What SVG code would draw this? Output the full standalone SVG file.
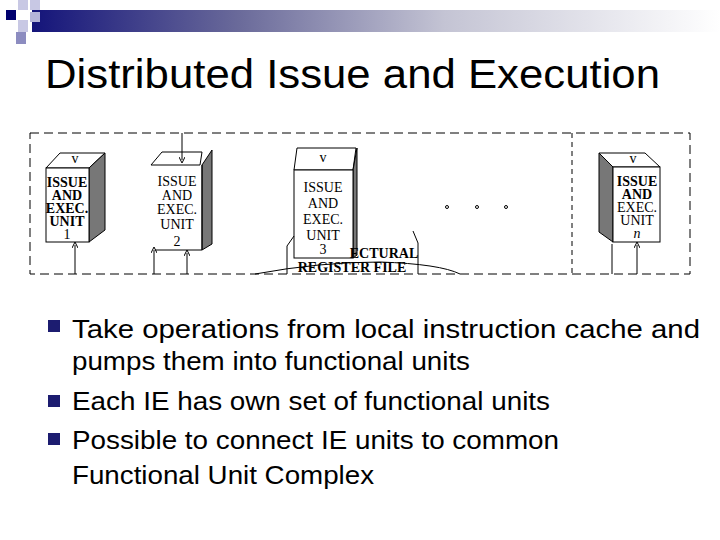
<svg xmlns="http://www.w3.org/2000/svg" width="720" height="540" viewBox="0 0 720 540">
<defs>
<linearGradient id="g" x1="0" x2="1"><stop offset="0" stop-color="#14147a"/><stop offset="0.3" stop-color="#6a6a9a"/><stop offset="0.6" stop-color="#c4c4d4"/><stop offset="1" stop-color="#ffffff"/></linearGradient>
<marker id="ah" markerWidth="6" markerHeight="6" refX="3" refY="3" orient="auto"><path d="M0,0 L6,3 L0,6" fill="none" stroke="#000"/></marker>
<style>
.u{font-family:"Liberation Serif",serif;font-size:14px;text-anchor:middle;fill:#000}
.f{fill:#fff;stroke:#000;stroke-width:1}
.s{fill:#777;stroke:#000;stroke-width:1}
.c{stroke:#000;stroke-width:1;fill:none}
.b{font-family:"Liberation Sans",Arial,sans-serif;font-size:26px;fill:#000}
</style>
</defs>
<rect width="720" height="540" fill="#fff"/>
<g id="header">
<rect x="32" y="10" width="688" height="22" fill="url(#g)"/>
<rect x="6" y="10" width="10" height="10" fill="#00006e"/>
<rect x="18" y="0" width="10" height="10" fill="#c8c8e4"/>
<rect x="30" y="0" width="10" height="10" fill="#c8c8e4"/>
<rect x="30" y="12" width="10" height="10" fill="#b4b4d8"/>
<rect x="18" y="20" width="10" height="12" fill="#c8c8e4"/>
<rect x="16" y="32" width="10" height="12" fill="#8c8cc0"/>
</g>
<text x="45" y="88" font-family="Liberation Sans,Arial,sans-serif" font-size="40" textLength="615" lengthAdjust="spacingAndGlyphs">Distributed Issue and Execution</text>
<g id="frame">
<rect x="30" y="133" width="660" height="141" class="c" stroke-width="3" stroke-dasharray="9,5"/>
<line x1="572" y1="133" x2="572" y2="274" class="c" stroke-width="1.5" stroke-dasharray="5,4"/>
</g>
<g id="unit1">
<path d="M46,168 L60,153 L105,153 L89,168 Z" class="f"/>
<path d="M89,168 L105,153 L105,230 L89,242 Z" class="s"/>
<rect x="46" y="168" width="43" height="74" class="f"/>
<text class="u" x="75" y="163" font-size="9">v</text>
<text class="u" font-weight="bold" font-size="10.5" x="67" y="187">ISSUE</text>
<text class="u" font-weight="bold" font-size="10.5" x="67" y="200">AND</text>
<text class="u" font-weight="bold" font-size="10.5" x="67" y="213">EXEC.</text>
<text class="u" font-weight="bold" font-size="10.5" x="67" y="226">UNIT</text>
<text class="u" font-size="13" x="67" y="239">1</text>
</g>
<g id="unit2">
<path d="M151,165 L162,152 L202,152 L200,165 Z" class="f"/>
<path d="M202,165 L212,150 L212,244 L202,250 Z" class="s"/>
<path d="M202,165 L202,250 L155,250" class="c"/>
<text class="u" x="177" y="186">ISSUE</text>
<text class="u" x="177" y="200">AND</text>
<text class="u" x="177" y="214">EXEC.</text>
<text class="u" x="177" y="229">UNIT</text>
<text class="u" x="177" y="246">2</text>
</g>
<g id="unit3">
<path d="M297,148 L356,148 L353,170 L294,170 Z" class="f"/>
<path d="M353,170 L357,148 L357,255 L353,258 Z" class="s"/>
<rect x="294" y="170" width="59" height="88" class="f"/>
<text class="u" x="323" y="162" font-size="9">v</text>
<text class="u" font-size="17" x="323" y="192">ISSUE</text>
<text class="u" font-size="17" x="323" y="208">AND</text>
<text class="u" font-size="17" x="323" y="224">EXEC.</text>
<text class="u" font-size="17" x="323" y="240">UNIT</text>
<text class="u" font-size="16" x="323" y="254">3</text>
</g>
<g id="unitn">
<path d="M599,153 L645,153 L660,167 L613,167 Z" class="f"/>
<path d="M599,153 L613,167 L613,242 L599,232 Z" class="s"/>
<rect x="613" y="167" width="47" height="75" class="f"/>
<text class="u" x="633" y="163" font-size="9">v</text>
<text class="u" font-weight="bold" font-size="11" x="637" y="186">ISSUE</text>
<text class="u" font-weight="bold" font-size="11" x="637" y="199">AND</text>
<text class="u" font-size="12" x="637" y="212">EXEC.</text>
<text class="u" font-size="12" x="637" y="225">UNIT</text>
<text class="u" font-style="italic" font-size="12" x="637" y="238">n</text>
</g>
<g id="dots" fill="none" stroke="#000">
<circle cx="447" cy="207" r="1.5"/><circle cx="477" cy="207" r="1.5"/><circle cx="506" cy="207" r="1.5"/>
</g>
<g id="regfile">
<path d="M255,274 Q320,262 380,262 Q440,264 460,274" class="c"/>
<path d="M294,236 L287,246 L287,274" class="c"/>
<path d="M413,231 L418,243 L418,274" class="c"/>
<text class="u" font-weight="bold" font-size="12" x="384" y="258">ECTURAL</text>
<text class="u" font-weight="bold" font-size="12" x="352" y="272">REGISTER FILE</text>
</g>
<g id="connectors" class="c">
<line x1="75" y1="274" x2="75" y2="245" marker-end="url(#ah)"/>
<line x1="182" y1="133" x2="182" y2="160" marker-end="url(#ah)"/>
<line x1="154" y1="274" x2="154" y2="250" marker-end="url(#ah)"/>
<line x1="187" y1="274" x2="187" y2="253" marker-end="url(#ah)"/>
<line x1="612" y1="274" x2="612" y2="244"/>
<line x1="637" y1="274" x2="637" y2="245" marker-end="url(#ah)"/>
</g>
<g id="bullets">
<rect x="48" y="320" width="12" height="12" fill="#1c1c70"/>
<rect x="48" y="395" width="12" height="12" fill="#1c1c70"/>
<rect x="48" y="433" width="12" height="12" fill="#1c1c70"/>
<text class="b" x="72" y="338" textLength="628" lengthAdjust="spacingAndGlyphs">Take operations from local instruction cache and</text>
<text class="b" x="72" y="370" textLength="398" lengthAdjust="spacingAndGlyphs">pumps them into functional units</text>
<text class="b" x="72" y="410" textLength="478" lengthAdjust="spacingAndGlyphs">Each IE has own set of functional units</text>
<text class="b" x="72" y="449" textLength="487" lengthAdjust="spacingAndGlyphs">Possible to connect IE units to common</text>
<text class="b" x="72" y="484" textLength="302" lengthAdjust="spacingAndGlyphs">Functional Unit Complex</text>
</g>
</svg>
